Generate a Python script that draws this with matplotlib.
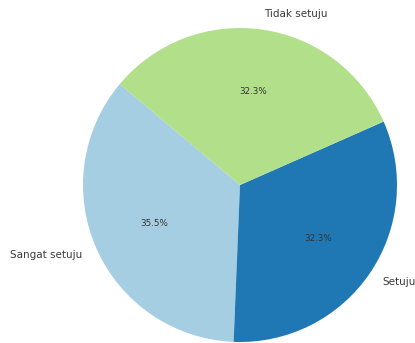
import matplotlib
matplotlib.use("Agg")
import matplotlib.pyplot as plt

# data
labels = ["Sangat setuju", "Setuju", "Tidak setuju"]
shares = [35.5, 32.3, 32.3]
colors = ["#a6cee3", "#1f78b4", "#b2df8a"]

W, H = 415, 343
fig = plt.figure(figsize=(W / 100, H / 100), dpi=100)

# pie centre (240, 185) px, radius ~157 px; axes span 2.5 radii
cx, cy, r = 240, 185, 157
half = 1.25 * r
ax = fig.add_axes([(cx - half) / W, (H - cy - half) / H, 2 * half / W, 2 * half / H])

wedges, texts, autotexts = ax.pie(
    shares,
    labels=labels,
    colors=colors,
    autopct="%1.1f%%",
    startangle=140,
    textprops={"fontsize": 7.5, "color": "#3a3a3a"},
)
for t in autotexts:
    t.set_fontsize(6.3)
    t.set_color("#333333")

fig.savefig("out.png", dpi=100)
